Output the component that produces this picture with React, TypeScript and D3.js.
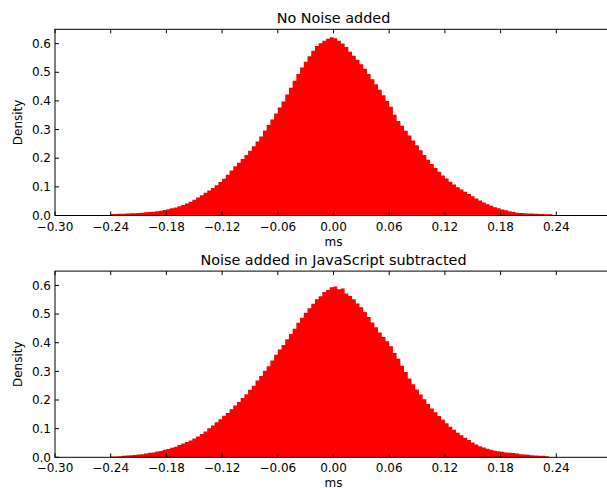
import React from 'react';
import * as d3 from 'd3';

// histogram bins: start at -0.24 ms, each 0.004 ms wide
const binStart = -0.24;
const binWidth = 0.004;

const noNoise = [
  0.005, 0.005, 0.006, 0.006, 0.007, 0.008, 0.008, 0.009, 0.010, 0.011,
  0.012, 0.013, 0.015, 0.017, 0.019, 0.022, 0.025, 0.028, 0.032, 0.037,
  0.042, 0.048, 0.055, 0.063, 0.071, 0.079, 0.087, 0.096, 0.106, 0.117,
  0.128, 0.142, 0.157, 0.172, 0.184, 0.197, 0.211, 0.226, 0.242, 0.258,
  0.276, 0.297, 0.316, 0.335, 0.356, 0.377, 0.398, 0.422, 0.446, 0.470,
  0.494, 0.517, 0.537, 0.556, 0.575, 0.592, 0.601, 0.610, 0.617, 0.622,
  0.619, 0.610, 0.600, 0.588, 0.572, 0.558, 0.544, 0.528, 0.512, 0.494,
  0.476, 0.458, 0.439, 0.420, 0.400, 0.380, 0.352, 0.330, 0.313, 0.296,
  0.279, 0.262, 0.245, 0.228, 0.211, 0.195, 0.180, 0.166, 0.153, 0.140,
  0.129, 0.118, 0.108, 0.099, 0.091, 0.083, 0.075, 0.067, 0.059, 0.052,
  0.045, 0.039, 0.034, 0.029, 0.025, 0.021, 0.018, 0.015, 0.012, 0.010,
  0.009, 0.008, 0.007, 0.007, 0.006, 0.005, 0.005, 0.004, 0.004, 0.002,
];

const noiseSubtracted = [
  0.003, 0.003, 0.004, 0.005, 0.006, 0.007, 0.008, 0.010, 0.011, 0.013,
  0.016, 0.017, 0.020, 0.022, 0.026, 0.029, 0.033, 0.037, 0.043, 0.048,
  0.053, 0.059, 0.066, 0.073, 0.081, 0.090, 0.101, 0.111, 0.122, 0.133,
  0.145, 0.155, 0.168, 0.181, 0.193, 0.207, 0.220, 0.236, 0.250, 0.268,
  0.284, 0.302, 0.318, 0.338, 0.358, 0.376, 0.392, 0.412, 0.430, 0.449,
  0.470, 0.487, 0.505, 0.520, 0.536, 0.552, 0.562, 0.577, 0.584, 0.594,
  0.596, 0.587, 0.589, 0.572, 0.563, 0.552, 0.537, 0.524, 0.507, 0.490,
  0.471, 0.454, 0.436, 0.420, 0.405, 0.388, 0.364, 0.344, 0.320, 0.298,
  0.275, 0.255, 0.237, 0.219, 0.203, 0.186, 0.170, 0.157, 0.144, 0.131,
  0.119, 0.107, 0.096, 0.086, 0.077, 0.068, 0.060, 0.052, 0.045, 0.039,
  0.034, 0.030, 0.026, 0.023, 0.021, 0.019, 0.017, 0.016, 0.015, 0.013,
  0.011, 0.010, 0.009, 0.007, 0.006, 0.005, 0.005, 0.004, 0, 0,
];

const xTicks = [-0.30, -0.24, -0.18, -0.12, -0.06, 0.0, 0.06, 0.12, 0.18, 0.24];
const yTicks = [0.0, 0.1, 0.2, 0.3, 0.4, 0.5, 0.6];

const W = 607;
const H = 488;
const FONT = '"DejaVu Sans", Verdana, sans-serif';

const x = d3.scaleLinear().domain([-0.30, 0.30]).range([55, 612]);
const fmtX = d3.format('.2f');
const fmtY = d3.format('.1f');

const Panel = ({ top, bottom, title, values }) => {
  const y = d3.scaleLinear().domain([0, 0.65]).range([bottom, top]);
  const pts = values.map((v, i) => [binStart + i * binWidth, v]);
  pts.push([binStart + values.length * binWidth, values[values.length - 1]]);
  const area = d3.area()
    .x(d => x(d[0]))
    .y0(y(0))
    .y1(d => y(d[1]))
    .curve(d3.curveStepAfter);
  const [x0, x1] = x.range();
  const tick = 4;

  return (
    <g>
      <path d={area(pts)} fill="#ff0000" />
      {/* spines */}
      <rect x={x0} y={top} width={x1 - x0} height={bottom - top} fill="none" stroke="#000" strokeWidth={1} />
      {/* x ticks */}
      {xTicks.map(t => (
        <g key={t}>
          <line x1={x(t)} x2={x(t)} y1={bottom} y2={bottom - tick} stroke="#000" />
          <line x1={x(t)} x2={x(t)} y1={top} y2={top + tick} stroke="#000" />
          <text x={x(t)} y={bottom + 15} textAnchor="middle" fontSize={12} fontFamily={FONT}>{fmtX(t)}</text>
        </g>
      ))}
      {/* y ticks */}
      {yTicks.map(t => (
        <g key={t}>
          <line x1={x0} x2={x0 + tick} y1={y(t)} y2={y(t)} stroke="#000" />
          <text x={x0 - 4} y={y(t)} dy="0.35em" textAnchor="end" fontSize={12} fontFamily={FONT}>{fmtY(t)}</text>
        </g>
      ))}
      <text x={(x0 + x1) / 2} y={top - 6} textAnchor="middle" fontSize={14.4} fontFamily={FONT}>{title}</text>
      <text x={(x0 + x1) / 2} y={bottom + 30} textAnchor="middle" fontSize={12} fontFamily={FONT}>ms</text>
      <text transform={`translate(22,${(top + bottom) / 2}) rotate(-90)`} textAnchor="middle" fontSize={12} fontFamily={FONT}>Density</text>
    </g>
  );
};

export default function App() {
  return (
    <svg width={W} height={H} style={{ position: 'absolute', left: 0, top: 0, background: '#fff' }}>
      <Panel top={29.3} bottom={215.5} title="No Noise added" values={noNoise} />
      <Panel top={271.1} bottom={457.3} title="Noise added in JavaScript subtracted" values={noiseSubtracted} />
    </svg>
  );
}
